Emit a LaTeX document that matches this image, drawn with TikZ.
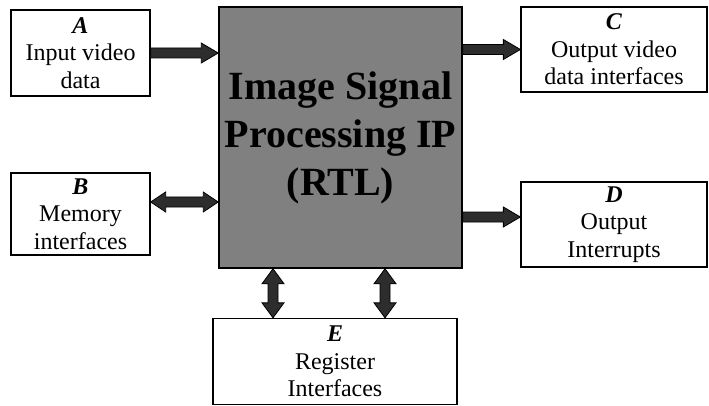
\documentclass[tikz,border=0pt]{standalone}
\usepackage{fontspec}
\setmainfont{Liberation Serif}
\usetikzlibrary{calc}
\definecolor{mainfill}{RGB}{128,128,128}
\definecolor{arrowfill}{RGB}{45,45,45}
\newcommand\harrowone[2]{%
  \draw[fat] let \p1=(#1), \p2=(#2) in
    (\x1,\y1+5pt) -- (\x2-17pt,\y1+5pt) -- (\x2-17pt,\y1+10pt) -- (\x2,\y1)
    -- (\x2-17pt,\y1-10pt) -- (\x2-17pt,\y1-5pt) -- (\x1,\y1-5pt) -- cycle;}
\newcommand\harrowtwo[2]{%
  \draw[fat] let \p1=(#1), \p2=(#2) in
    (\x1,\y1) -- (\x1+15pt,\y1+10pt) -- (\x1+15pt,\y1+5pt) -- (\x2-15pt,\y1+5pt)
    -- (\x2-15pt,\y1+10pt) -- (\x2,\y1) -- (\x2-15pt,\y1-10pt) -- (\x2-15pt,\y1-5pt)
    -- (\x1+15pt,\y1-5pt) -- (\x1+15pt,\y1-10pt) -- cycle;}
\newcommand\varrowtwo[2]{%
  \draw[fat] let \p1=(#1), \p2=(#2) in
    (\x1,\y1) -- (\x1+11pt,\y1-15pt) -- (\x1+5pt,\y1-15pt) -- (\x1+5pt,\y2+15pt)
    -- (\x1+11pt,\y2+15pt) -- (\x1,\y2) -- (\x1-11pt,\y2+15pt) -- (\x1-5pt,\y2+15pt)
    -- (\x1-5pt,\y1-15pt) -- (\x1-11pt,\y1-15pt) -- cycle;}
\begin{document}
\begin{tikzpicture}[x=1pt,y=-1pt,
  box/.style={draw=black, line width=1.3pt, fill=white, align=center,
    font=\fontsize{24}{27.5}\selectfont, inner sep=0pt},
  mainbox/.style={draw=black, line width=1.5pt, fill=mainfill, align=center,
    font=\fontsize{40}{48}\selectfont\bfseries, inner sep=0pt,
    minimum width=243pt, minimum height=261pt},
  fat/.style={fill=arrowfill, draw=black, line width=0.8pt, line join=miter}]
\useasboundingbox (0,0) rectangle (709,406);

\node[mainbox] (M) at (340.5,137.5) {Image Signal\\Processing IP\\(RTL)};
\node[box, minimum width=139pt, minimum height=86pt] (A) at (80.5,53)
  {\textbf{\textit{A}}\\Input video\\data};
\node[box, minimum width=139pt, minimum height=82pt] (B) at (80.5,214)
  {\textbf{\textit{B}}\\Memory\\interfaces};
\node[box, minimum width=186pt, minimum height=85pt] (C) at (614,49.5)
  {\textbf{\textit{C}}\\Output video\\data interfaces};
\node[box, minimum width=186pt, minimum height=85pt] (D) at (614,224.5)
  {\textbf{\textit{D}}\\Output\\Interrupts};
\node[box, minimum width=244pt, minimum height=86pt] (E) at (335,361.5)
  {\textbf{\textit{E}}\\Register\\Interfaces};

\coordinate (a1) at (A.east);
\coordinate (a2) at (M.west |- a1);
\coordinate (b1) at ($(B.east)+(0,-12)$);
\coordinate (b2) at (M.west |- b1);
\coordinate (c2) at (C.west);
\coordinate (c1) at (M.east |- c2);
\coordinate (d2) at ($(D.west)+(0,-7.5)$);
\coordinate (d1) at (M.east |- d2);
\coordinate (e1) at ($(E.north)+(-62,0)$);
\coordinate (m1) at (M.south -| e1);
\coordinate (e2) at ($(E.north)+(50,0)$);
\coordinate (m2) at (M.south -| e2);

\harrowone{a1}{a2}
\harrowtwo{b1}{b2}
\harrowone{c1}{c2}
\harrowone{d1}{d2}
\varrowtwo{m1}{e1}
\varrowtwo{m2}{e2}
\end{tikzpicture}
\end{document}
